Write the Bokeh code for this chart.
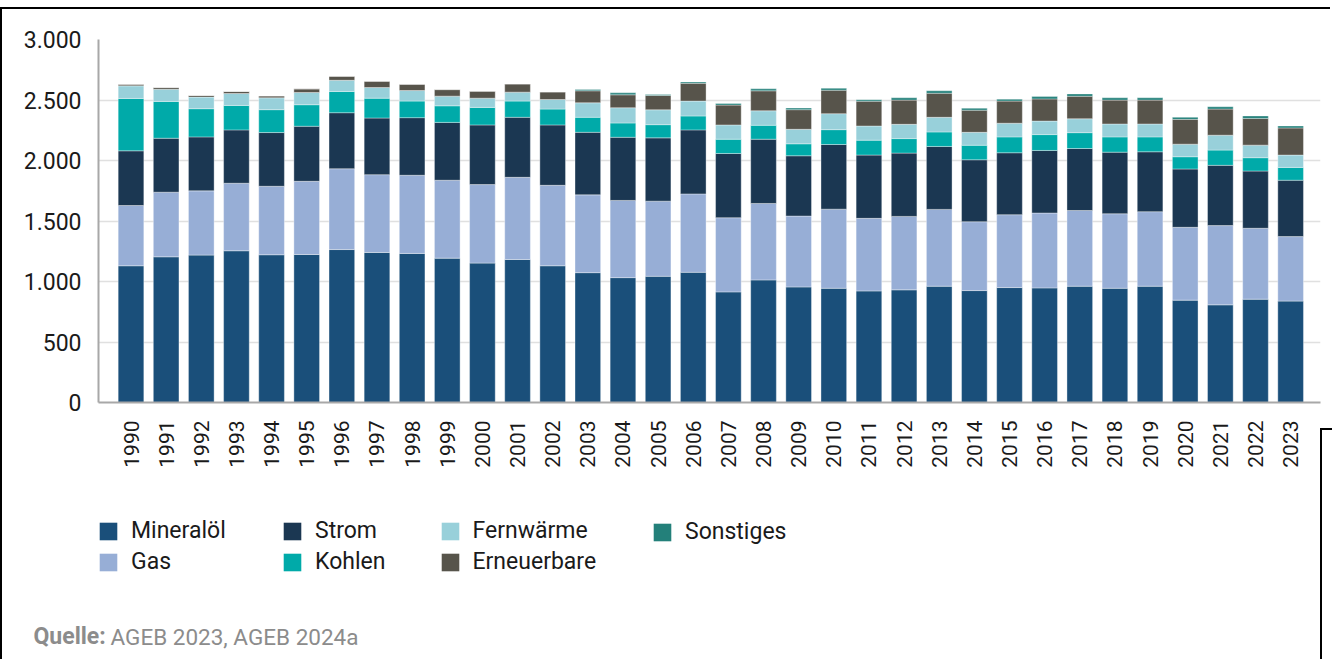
import math
from bokeh.plotting import figure
from bokeh.layouts import column
from bokeh.models import (ColumnDataSource, FixedTicker, Legend, LegendItem, Label, Range1d,
                          InlineStyleSheet)
from bokeh.embed import file_html
from bokeh.resources import INLINE

years = [str(y) for y in range(1990, 2024)]

mineraloel = [1130, 1204, 1218, 1254, 1221, 1223, 1264, 1240, 1232, 1193, 1152, 1182, 1130,
              1073, 1032, 1043, 1076, 914, 1013, 955, 944, 922, 931, 961, 925, 950, 947, 961,
              944, 961, 846, 807, 854, 838]
gas = [498, 534, 531, 558, 566, 605, 668, 643, 646, 644, 649, 679, 665,
       643, 638, 621, 648, 613, 632, 586, 654, 600, 607, 635, 569, 602, 619, 626,
       616, 616, 602, 655, 586, 533]
strom = [452, 446, 446, 441, 444, 455, 463, 468, 476, 478, 493, 496, 499,
         517, 522, 523, 529, 531, 531, 498, 534, 523, 523, 520, 512, 512, 517, 512,
         509, 495, 482, 498, 473, 466]
kohlen = [433, 304, 233, 202, 189, 178, 175, 164, 137, 137, 145, 134, 131,
          124, 118, 109, 115, 118, 115, 99, 123, 123, 120, 120, 120, 131, 131, 131,
          126, 123, 101, 126, 110, 106]
fernwaerme = [104, 101, 96, 99, 98, 101, 93, 88, 87, 80, 76, 74, 79,
              120, 126, 123, 123, 118, 120, 120, 132, 117, 118, 121, 107, 113, 112, 115,
              107, 107, 104, 123, 104, 102]
erneuerbare = [13, 14, 13, 16, 16, 30, 33, 52, 52, 54, 58, 68, 63,
               99, 107, 118, 147, 164, 165, 162, 194, 205, 200, 199, 183, 183, 183, 186,
               197, 197, 205, 216, 221, 224]
sonstiges = [0, 0, 0, 0, 0, 0, 0, 0, 0, 0, 0, 0, 0,
             10, 16, 8, 11, 13, 16, 13, 16, 12, 19, 20, 16, 16, 19, 19,
             19, 19, 17, 19, 20, 16]

series_names = ["Mineralöl", "Gas", "Strom", "Kohlen", "Fernwärme", "Erneuerbare", "Sonstiges"]
series_values = [mineraloel, gas, strom, kohlen, fernwaerme, erneuerbare, sonstiges]
colors = ["#1a4f7a", "#97aed6", "#1b3752", "#00aaa9", "#98d0da", "#57544b", "#23807a"]

y_ticks = [0, 500, 1000, 1500, 2000, 2500, 3000]
y_tick_labels = ["0", "500", "1.000", "1.500", "2.000", "2.500", "3.000"]

source_bold = "Quelle:"
source_text = "AGEB 2023, AGEB 2024a"

FONT = "Roboto"
W = 1330
H1 = 470
H2 = 189

x_idx = list(range(len(years)))
data = {"x": x_idx}
keys = ["s%d" % i for i in range(len(series_names))]
for k, vals in zip(keys, series_values):
    data[k] = vals
src = ColumnDataSource(data)

# ---------------- chart ----------------
p = figure(width=W, height=H1, output_backend="svg", toolbar_location=None,
           x_range=Range1d(-0.925, 33.85), y_range=Range1d(0, 3000),
           min_border_left=98, min_border_right=W - 1320, min_border_top=39,
           min_border_bottom=66, frame_align=False)
p.outline_line_color = None

renderers = p.vbar_stack(keys, x="x", width=0.73, source=src, fill_color=colors,
                         line_color="white", line_width=0.6, line_alpha=0.6)

p.xaxis.ticker = FixedTicker(ticks=x_idx)
p.xaxis.major_label_overrides = {i: yr for i, yr in enumerate(years)}
p.xaxis.major_label_orientation = math.pi / 2
p.xaxis.major_label_text_font = FONT
p.xaxis.major_label_text_font_size = "21px"
p.xaxis.major_label_text_color = "#1a1a1a"
p.xaxis.major_label_standoff = 12
p.xaxis.major_tick_line_color = None
p.xaxis.minor_tick_line_color = None
p.xaxis.axis_line_color = "#a8a8a8"
p.xaxis.axis_line_width = 2

p.yaxis.ticker = FixedTicker(ticks=y_ticks)
p.yaxis.major_label_overrides = {t: l for t, l in zip(y_ticks, y_tick_labels)}
p.yaxis.major_label_text_font = FONT
p.yaxis.major_label_text_font_size = "23px"
p.yaxis.major_label_text_color = "#1a1a1a"
p.yaxis.major_label_standoff = 11
p.yaxis.major_tick_line_color = None
p.yaxis.minor_tick_line_color = None
p.yaxis.axis_line_color = "#a8a8a8"
p.yaxis.axis_line_width = 2

p.xgrid.grid_line_color = None
p.ygrid.grid_line_color = "#e0e0e0"
p.ygrid.grid_line_width = 1.5

# ---------------- legend + source ----------------
# x range deliberately away from the bar positions: the renderers here only feed the legend
p2 = figure(width=W, height=H2, output_backend="svg", toolbar_location=None,
            x_range=Range1d(100, 100 + W), y_range=Range1d(0, H2), min_border=0,
            x_axis_location=None, y_axis_location=None, frame_align=False)
p2.outline_line_color = None
p2.grid.visible = False

legend_renderers = [p2.vbar(x="x", top=k, width=0.73, source=src, fill_color=c, line_color=None)
                    for k, c in zip(keys, colors)]

columns = [[0, 1], [2, 3], [4, 5], [6]]
col_x = [97, 281, 438.5, 651]
ITEM_H = 26
SPACING = 4
TOP_FROM_BOTTOM = H2 - (519 - H1)
for col, cx in zip(columns, col_x):
    n = len(col)
    h = n * ITEM_H + (n - 1) * SPACING
    leg = Legend(items=[LegendItem(label=series_names[i], renderers=[legend_renderers[i]]) for i in col],
                 location=(cx, TOP_FROM_BOTTOM - h), orientation="vertical",
                 glyph_width=22, glyph_height=22, label_height=ITEM_H, spacing=SPACING,
                 label_standoff=12, padding=0, margin=0,
                 background_fill_alpha=0, border_line_alpha=0,
                 label_text_font=FONT, label_text_font_size="23px",
                 label_text_color="#1a1a1a")
    p2.add_layout(leg)

src_y = H2 - (636 - H1)
p2.add_layout(Label(x=33, y=src_y, x_units="screen", y_units="screen", text=source_bold,
                    text_font=FONT, text_font_size="23px", text_font_style="bold",
                    text_color="#8c8c8c", text_baseline="middle"))
p2.add_layout(Label(x=110, y=src_y, x_units="screen", y_units="screen", text=source_text,
                    text_font=FONT, text_font_size="22.5px", text_color="#8c8c8c",
                    text_baseline="middle"))

# thin black frame lines seen at the edges of the original picture
layout = column(p, p2, spacing=0)
layout.stylesheets = [InlineStyleSheet(css="""
:host { position: relative; }
:host::before { content: ""; position: absolute; left: 0; top: 7px; width: 100%; height: 2px;
                background: #000; z-index: 100; pointer-events: none; }
:host::after { content: ""; position: absolute; left: 0; top: 7px; width: 2px; bottom: 0;
               background: #000; z-index: 100; pointer-events: none; }
""")]
p.stylesheets = [InlineStyleSheet(css="""
:host { position: relative; }
:host::after { content: ""; position: absolute; left: 1320px; top: 428px; width: 12px;
               bottom: 0; border-left: 2px solid #000; border-top: 2px solid #000;
               z-index: 100; pointer-events: none; }
""")]
p2.stylesheets = [InlineStyleSheet(css="""
:host { position: relative; }
:host::after { content: ""; position: absolute; left: 1320px; top: 0; width: 2px;
               bottom: 0; background: #000; z-index: 100; pointer-events: none; }
""")]
open("out.html", "w").write(file_html(layout, INLINE))
